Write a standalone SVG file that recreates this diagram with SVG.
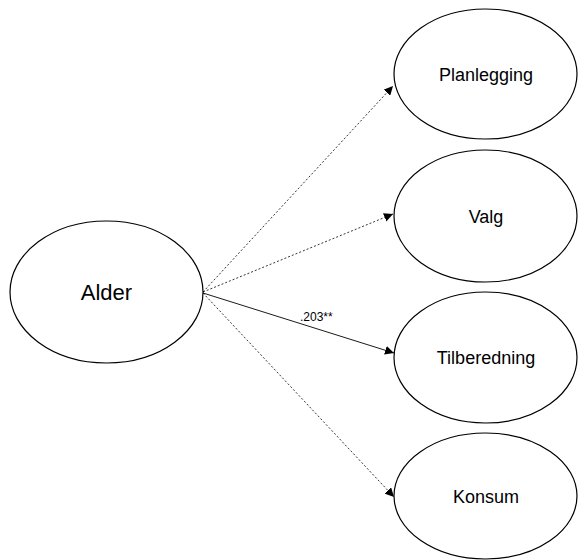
<svg xmlns="http://www.w3.org/2000/svg" width="578" height="560" viewBox="0 0 578 560">
<defs>
<marker id="ah" viewBox="0 0 10 10" refX="10" refY="5" markerWidth="9" markerHeight="9" markerUnits="userSpaceOnUse" orient="auto">
<path d="M0,0 L10,5 L0,10 z" fill="#000"/>
</marker>
<style>
.node{fill:#fff;stroke:#000;stroke-width:1.2}
.lbl{font-family:"Liberation Sans",Arial,sans-serif;font-size:18px;fill:#000;text-anchor:middle}
.big{font-size:22px}
.dash{stroke:#000;stroke-width:0.8;stroke-dasharray:2,2;fill:none}
.solid{stroke:#000;stroke-width:0.9;fill:none}
.elbl{font-family:"Liberation Sans",Arial,sans-serif;font-size:12px;fill:#000}
</style>
</defs>
<rect width="578" height="560" fill="#fff"/>
<g id="connectors">
<line class="dash" x1="203" y1="292" x2="393" y2="86" marker-end="url(#ah)"/>
<line class="dash" x1="203" y1="292" x2="393" y2="214" marker-end="url(#ah)"/>
<line class="solid" x1="203" y1="293" x2="394" y2="353" marker-end="url(#ah)"/>
<line class="dash" x1="203" y1="293" x2="394" y2="497" marker-end="url(#ah)"/>
<text class="elbl" x="300" y="321">.203**</text>
</g>
<g id="alder">
<ellipse class="node" cx="106.5" cy="292" rx="96.5" ry="71"/>
<text class="lbl big" x="106.5" y="300">Alder</text>
</g>
<g id="planlegging">
<ellipse class="node" cx="485.5" cy="74" rx="91.5" ry="65"/>
<text class="lbl" x="486" y="80.5">Planlegging</text>
</g>
<g id="valg">
<ellipse class="node" cx="485.5" cy="216" rx="91.5" ry="66"/>
<text class="lbl" x="486" y="222.5">Valg</text>
</g>
<g id="tilberedning">
<ellipse class="node" cx="485.5" cy="357.5" rx="91.5" ry="65.5"/>
<text class="lbl" x="486" y="364">Tilberedning</text>
</g>
<g id="konsum">
<ellipse class="node" cx="485.5" cy="496" rx="91.5" ry="63"/>
<text class="lbl" x="486" y="502.5">Konsum</text>
</g>
</svg>
